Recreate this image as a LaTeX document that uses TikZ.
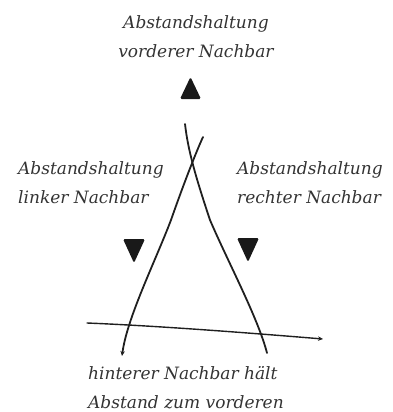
\documentclass[tikz,border=0pt]{standalone}
\usepackage{fontspec}
\setmainfont{DejaVu Serif}
\usetikzlibrary{arrows.meta}
\definecolor{schrift}{HTML}{333333}
\tikzset{
  strich/.style={line width=1.8pt, draw=black!88, line cap=round},
  pfeil/.style={strich, -{Stealth[length=5pt,width=4.5pt]}},
  lbl/.style={font=\fontsize{17}{28.5}\selectfont\itshape, text=schrift, inner sep=0pt, align=left},
  tri/.style={fill=black!90, rounded corners=1.5pt},
}
\newcommand{\auf}[2]{\fill[tri] (#1-10.5,#2+11) -- (#1,#2-11) -- (#1+10.5,#2+11) -- cycle;}
\newcommand{\ab}[2]{\fill[tri] (#1-11,#2-12) -- (#1+11,#2-12) -- (#1,#2+12) -- cycle;}

\begin{document}
\begin{tikzpicture}[x=1pt, y=-1pt]
\useasboundingbox (0,0) rectangle (392,412);

\node[lbl, align=center, anchor=base] (vorne) at (196,57) {Abstandshaltung\\vorderer Nachbar};
\node[lbl, anchor=base west] (links) at (18,203) {Abstandshaltung\\linker Nachbar};
\node[lbl, anchor=base west] (rechts) at (237,203) {Abstandshaltung\\rechter Nachbar};
\node[lbl, anchor=base west] (hinten) at (88,408) {hinterer Nachbar hält\\Abstand zum vorderen};

\coordinate (rO) at (185,124);
\coordinate (rU) at (267,353);
\coordinate (lO) at (203,137);
\coordinate (lU) at (122,356);
\coordinate (hL) at (87,323);
\coordinate (hR) at (323,339);

\draw[strich] (rO) .. controls (188,150) and (195,175) .. (210,220) .. controls (228,262) and (258,318) .. (rU);
\draw[pfeil] (lO) .. controls (197,150) and (185,180) .. (171,220) .. controls (155,262) and (127,318) .. (lU);
\draw[pfeil, line width=1.4pt] (hL) .. controls (160,326) and (250,333) .. (hR);

\auf{190.5}{88}
\ab{134}{251}
\ab{248}{250}

\end{tikzpicture}
\end{document}
